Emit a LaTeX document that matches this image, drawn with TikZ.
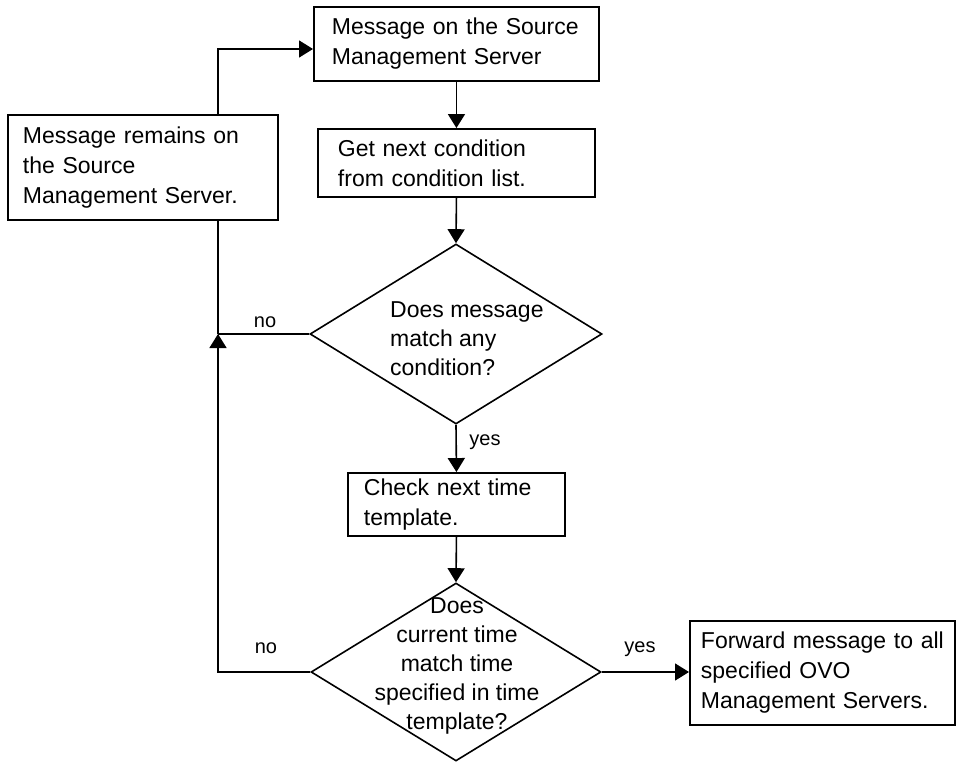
\documentclass[tikz,border=0pt]{standalone}
\usepackage{fontspec}
\setmainfont{Liberation Sans}
\usetikzlibrary{arrows.meta,shapes.geometric}
\begin{document}
\begin{tikzpicture}[x=1pt,y=-1pt,
  box/.style={draw,line width=1.9pt,anchor=west,align=left,font=\fontsize{23}{30}\selectfont,inner ysep=0pt},
  dia/.style={draw,line width=1.6pt,shape=diamond,inner sep=0pt},
  dtext/.style={font=\fontsize{23}{29}\selectfont,inner sep=0pt},
  lbl/.style={font=\fontsize{20}{24}\selectfont,inner sep=0pt,anchor=base},
  conn/.style={line width=1.6pt},
  arr/.style={conn,-{Triangle[length=14pt,width=17pt]}}]
\useasboundingbox (0,0) rectangle (956,762);
\node[box,text width=249pt,inner xsep=18pt,minimum height=74pt] (b1) at (313,44) {Message on the Source\\Management Server};
\node[box,text width=237pt,inner xsep=20pt,minimum height=68pt] (b2) at (317,163) {Get next condition\\from condition list.};
\node[box,text width=240pt,inner xsep=15pt,minimum height=105pt] (lb) at (7,167.5) {Message remains on\\the Source\\Management Server.};
\node[box,text width=185pt,inner xsep=16pt,minimum height=63pt] (b3) at (347,504.5) {Check next time\\template.};
\node[box,text width=243pt,inner xsep=11pt,minimum height=104pt] (b4) at (689,673) {Forward message to all\\specified OVO\\Management Servers.};
\node[dia,minimum width=292pt,minimum height=180pt] (d1) at (456,334) {};
\node[dtext,align=left,anchor=west] (d1t) at (390,338.7) {Does message\\match any\\condition?};
\node[dia,minimum width=290pt,minimum height=178pt] (d2) at (456,672) {};
\node[dtext,align=center] (d2t) at (457,665.5) {Does\\current time\\match time\\specified in time\\template?};
\node[lbl] (no1) at (265,327) {no};
\node[lbl] (yes1) at (485,445) {yes};
\node[lbl] (no2) at (266,653) {no};
\node[lbl] (yes2) at (640,652) {yes};
\coordinate (jn) at (218,334);
\draw[arr] (b1.south) -- (b2.north);
\draw[arr] (b2.south) -- (d1.north);
\draw[arr] (d1.south) -- (b3.north);
\draw[arr] (b3.south) -- (d2.north);
\draw[arr] (d2.east) -- (d2.east -| b4.west);
\draw[conn] (d1.west) -- (jn);
\draw[arr] (d2.west) -| (jn);
\draw[conn] (jn) -- (jn |- lb.south);
\draw[arr] (jn |- lb.north) |- ([yshift=-5pt]b1.west);
\end{tikzpicture}
\end{document}
